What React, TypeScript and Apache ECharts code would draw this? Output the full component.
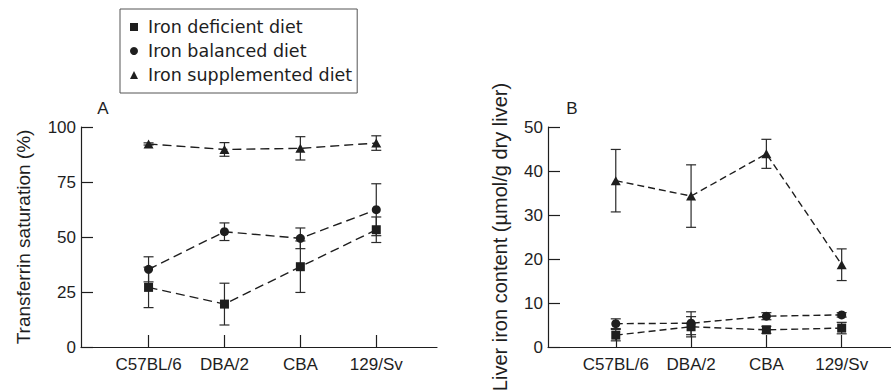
import React, { useEffect, useRef } from "react";
import * as echarts from "echarts";

const strains = ["C57BL/6", "DBA/2", "CBA", "129/Sv"];
const dietNames = ["Iron deficient diet", "Iron balanced diet", "Iron supplemented diet"];

// Panel A: transferrin saturation (%)
const satDeficient = [27.1, 19.5, 36.5, 53.3];
const satDeficientErr = [9.2, 9.5, 11.7, 5.8];
const satBalanced = [35.3, 52.4, 49.4, 62.4];
const satBalancedErr = [5.7, 4.0, 4.7, 11.8];
const satSupplemented = [92.3, 89.8, 90.3, 92.7];
const satSupplementedErr = [0.5, 3.1, 5.3, 3.3];

// Panel B: liver iron content (µmol/g dry liver)
const liverDeficient = [2.7, 4.6, 3.9, 4.3];
const liverDeficientErr = [1.3, 2.3, 0.8, 1.3];
const liverBalanced = [5.3, 5.4, 7.0, 7.3];
const liverBalancedErr = [1.1, 2.6, 0.8, 0.5];
const liverSupplemented = [37.8, 34.3, 43.9, 18.7];
const liverSupplementedErr = [7.1, 7.1, 3.3, 3.6];

const satTicks = [0, 25, 50, 75, 100];
const liverTicks = [0, 10, 20, 30, 40, 50];

const INK = "#1e1e1e";
const FONT = "Liberation Sans";

const symbols = ["rect", "circle", "triangle"];
const symbolSizes: any[] = [9, 9, [10, 9]];

function pts(vals: number[]) {
  return vals.map((v, i) => [i, v]);
}
function errs(vals: number[], e: number[]) {
  return vals.map((v, i) => [i, v - e[i], v + e[i]]);
}

function errRender(params: any, api: any) {
  const x = api.value(0);
  const lo = api.coord([x, api.value(1)]);
  const hi = api.coord([x, api.value(2)]);
  const cw = 5;
  const st = { stroke: "#2a2a2a", lineWidth: 1.2 };
  return {
    type: "group",
    children: [
      { type: "line", shape: { x1: lo[0], y1: lo[1], x2: hi[0], y2: hi[1] }, style: st },
      { type: "line", shape: { x1: lo[0] - cw, y1: lo[1], x2: lo[0] + cw, y2: lo[1] }, style: st },
      { type: "line", shape: { x1: hi[0] - cw, y1: hi[1], x2: hi[0] + cw, y2: hi[1] }, style: st },
    ],
  };
}

export default function App() {
  const ref = useRef<HTMLDivElement>(null);
  useEffect(() => {
    if (!ref.current) return;
    const chart = echarts.init(ref.current, undefined, { renderer: "svg" });

    const xAxisCommon = (min: number, max: number, gridIndex: number) => ({
      type: "value",
      gridIndex,
      min,
      max,
      splitLine: { show: false },
      axisLine: { show: true, onZero: false, lineStyle: { color: INK, width: 1.2 } },
      axisTick: { show: true, inside: true, length: 12, customValues: [0, 1, 2, 3], lineStyle: { color: INK, width: 1.2 } },
      axisLabel: {
        show: true,
        customValues: [0, 1, 2, 3],
        formatter: (v: number) => strains[Math.round(v)] ?? "",
        color: INK,
        fontSize: 17,
        fontFamily: FONT,
        margin: 9,
      },
    });

    const yAxisCommon = (max: number, interval: number, name: string, nameGap: number, nameSize: number, gridIndex: number) => ({
      type: "value",
      gridIndex,
      min: 0,
      max,
      interval,
      name,
      nameLocation: "middle",
      nameGap,
      nameTextStyle: { color: INK, fontSize: nameSize, fontFamily: FONT },
      splitLine: { show: false },
      axisLine: { show: true, onZero: false, lineStyle: { color: INK, width: 1.2 } },
      axisTick: { show: true, inside: true, length: 12, lineStyle: { color: INK, width: 1.2 } },
      axisLabel: { color: INK, fontSize: 17, fontFamily: FONT, margin: 5 },
    });

    const satSets = [
      [satDeficient, satDeficientErr],
      [satBalanced, satBalancedErr],
      [satSupplemented, satSupplementedErr],
    ];
    const liverSets = [
      [liverDeficient, liverDeficientErr],
      [liverBalanced, liverBalancedErr],
      [liverSupplemented, liverSupplementedErr],
    ];

    const series: any[] = [];
    const addPanel = (sets: number[][][], idx: number, dash: number[]) => {
      sets.forEach(([vals, e], k) => {
        series.push({
          type: "custom",
          name: dietNames[k] + " err" + idx,
          xAxisIndex: idx,
          yAxisIndex: idx,
          renderItem: errRender,
          encode: { x: 0, y: [1, 2] },
          data: errs(vals, e),
          z: 1,
          silent: true,
        });
        series.push({
          type: "line",
          name: dietNames[k],
          xAxisIndex: idx,
          yAxisIndex: idx,
          data: pts(vals),
          symbol: symbols[k],
          symbolSize: symbolSizes[k],
          showSymbol: true,
          itemStyle: { color: INK, opacity: 1 },
          lineStyle: { color: INK, width: 1.4, type: dash },
          z: 3,
          silent: true,
        });
      });
    };
    addPanel(satSets, 0, [9, 5]);
    addPanel(liverSets, 1, [7, 4]);

    chart.setOption({
      animation: false,
      backgroundColor: "#ffffff",
      grid: [
        { left: 81, top: 127, width: 356, height: 220, outerBoundsMode: "none", containLabel: false },
        { left: 548, top: 127, width: 343, height: 220, outerBoundsMode: "none", containLabel: false },
      ],
      xAxis: [xAxisCommon(-0.89, 3.8, 0), xAxisCommon(-0.9, 3.655, 1)],
      yAxis: [
        yAxisCommon(satTicks[satTicks.length - 1], satTicks[1] - satTicks[0], "Transferrin saturation (%)", 48, 19, 0),
        yAxisCommon(liverTicks[liverTicks.length - 1], liverTicks[1] - liverTicks[0], "Liver iron content (µmol/g dry liver)", 38, 20, 1),
      ],
      legend: {
        orient: "vertical",
        left: 120,
        top: 9,
        padding: [8.5, 5, 8.5, 10],
        itemGap: 5,
        itemWidth: 8,
        itemHeight: 8,
        borderWidth: 1,
        borderColor: "#555",
        selectedMode: false,
        textStyle: { color: INK, fontSize: 17.5, fontFamily: "DejaVu Sans", lineHeight: 19, padding: [0, 0, 0, 5] },
        data: dietNames.map((n, k) => ({ name: n, icon: symbols[k], itemStyle: { color: INK } })),
      },
      graphic: [
        { type: "text", x: 103, y: 108, style: { text: "A", font: `17px "${FONT}"`, fill: INK, textAlign: "center", textVerticalAlign: "middle" } },
        { type: "text", x: 572, y: 108, style: { text: "B", font: `17px "${FONT}"`, fill: INK, textAlign: "center", textVerticalAlign: "middle" } },
      ],
      series,
    });
    return () => chart.dispose();
  }, []);
  return <div ref={ref} style={{ position: "fixed", left: 0, top: 0, width: 891, height: 391 }} />;
}
